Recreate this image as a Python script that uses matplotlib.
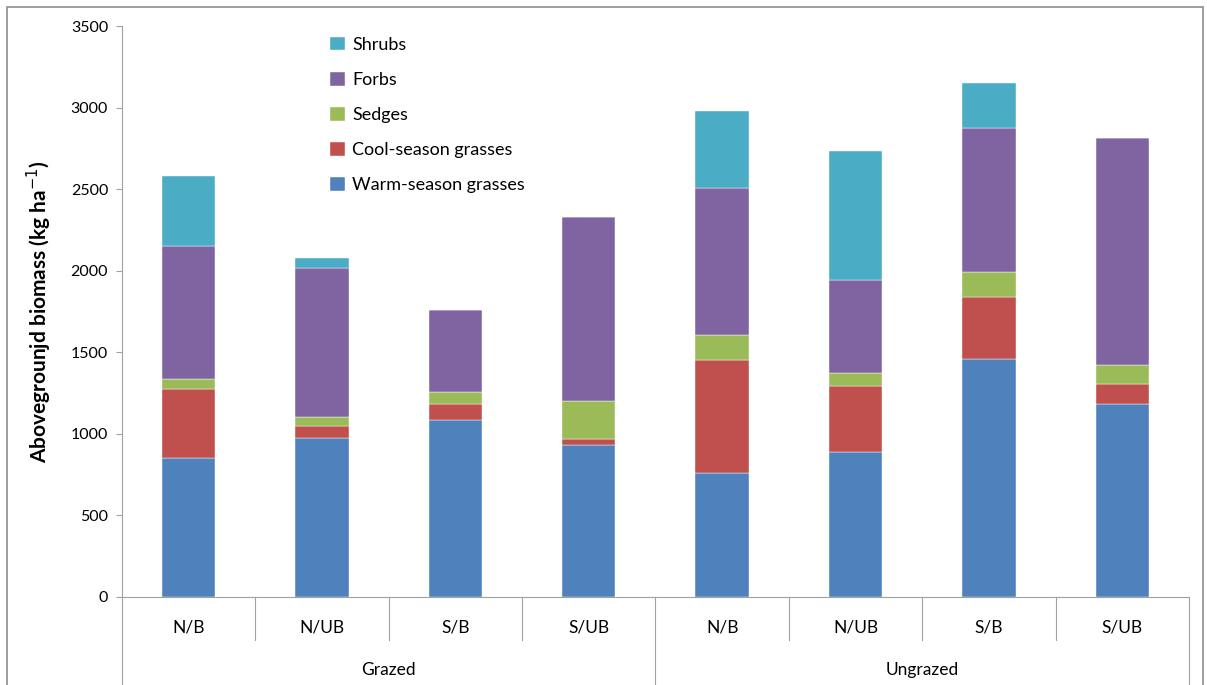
import numpy as np
import matplotlib.pyplot as plt
from matplotlib.patches import Rectangle

plt.rcParams['font.family'] = ['Lato', 'DejaVu Sans']

# Datos (kg/ha)
categorias = ['N/B', 'N/UB', 'S/B', 'S/UB', 'N/B', 'N/UB', 'S/B', 'S/UB']
grupos = ['Grazed', 'Ungrazed']
warm = [854, 973, 1085, 930, 758, 887, 1459, 1185]
cool = [419, 73, 98, 40, 697, 408, 378, 123]
sedges = [63, 57, 74, 233, 149, 76, 157, 114]
forbs = [816, 916, 500, 1126, 905, 572, 881, 1394]
shrubs = [429, 61, 0, 0, 470, 789, 274, 0]

series = [warm, cool, sedges, forbs, shrubs]
nombres = ['Warm-season grasses', 'Cool-season grasses', 'Sedges', 'Forbs', 'Shrubs']
colores = ['#4F81BD', '#C0504D', '#9BBB59', '#8064A2', '#4BACC6']

fig = plt.figure(figsize=(12.07, 6.85), dpi=100)
ax = fig.add_axes([0.1011, 0.1285, 0.8839, 0.8335])

x = np.arange(len(categorias))
base = np.zeros(len(categorias))
for vals, nom, col in zip(series, nombres, colores):
    ax.bar(x, vals, bottom=base, width=0.4, color=col, label=nom,
           edgecolor='white', linewidth=0.3)
    base += np.array(vals)

ax.set_xlim(-0.5, len(categorias) - 0.5)
ax.set_ylim(0, 3500)
ax.set_yticks(np.arange(0, 3501, 500))
ax.tick_params(axis='y', labelsize=11.5, length=4, color='#A0A0A0', pad=6)
ax.set_xticks([])

for lado in ['top', 'right']:
    ax.spines[lado].set_visible(False)
ax.spines['left'].set_color('#A0A0A0')
ax.spines['bottom'].set_color('#A0A0A0')

ax.set_ylabel('Abovegrounjd biomass (kg ha$^{-1}$)', fontsize=15,
              fontweight='bold', labelpad=12)

# Etiquetas de dos niveles en el eje x
trans = ax.get_xaxis_transform()
for i, c in enumerate(categorias):
    ax.text(i, -0.053, c, transform=trans, ha='center', va='center', fontsize=12.5)
for k in range(len(categorias) + 1):
    bajo = -0.154 if k % 4 == 0 else -0.0753
    ax.plot([k - 0.5, k - 0.5], [0, bajo], transform=trans, color='#A0A0A0',
            linewidth=0.8, clip_on=False)
for g, nombre in enumerate(grupos):
    ax.text(g * 4 + 1.5, -0.128, nombre, transform=trans, ha='center',
            va='center', fontsize=12.5)

# Leyenda
h, l = ax.get_legend_handles_labels()
ax.legend(h[::-1], l[::-1], loc='upper left', bbox_to_anchor=(0.18, 1.01),
          frameon=False, fontsize=13, handlelength=0.8, handleheight=0.8,
          labelspacing=1.05, handletextpad=0.4)

# Marco exterior
fig.patches.append(Rectangle((0.006, -0.01), 0.991, 1.0, transform=fig.transFigure,
                             fill=False, edgecolor='#8C8C8C', linewidth=1.2))

fig.savefig('out.png', dpi=100)
